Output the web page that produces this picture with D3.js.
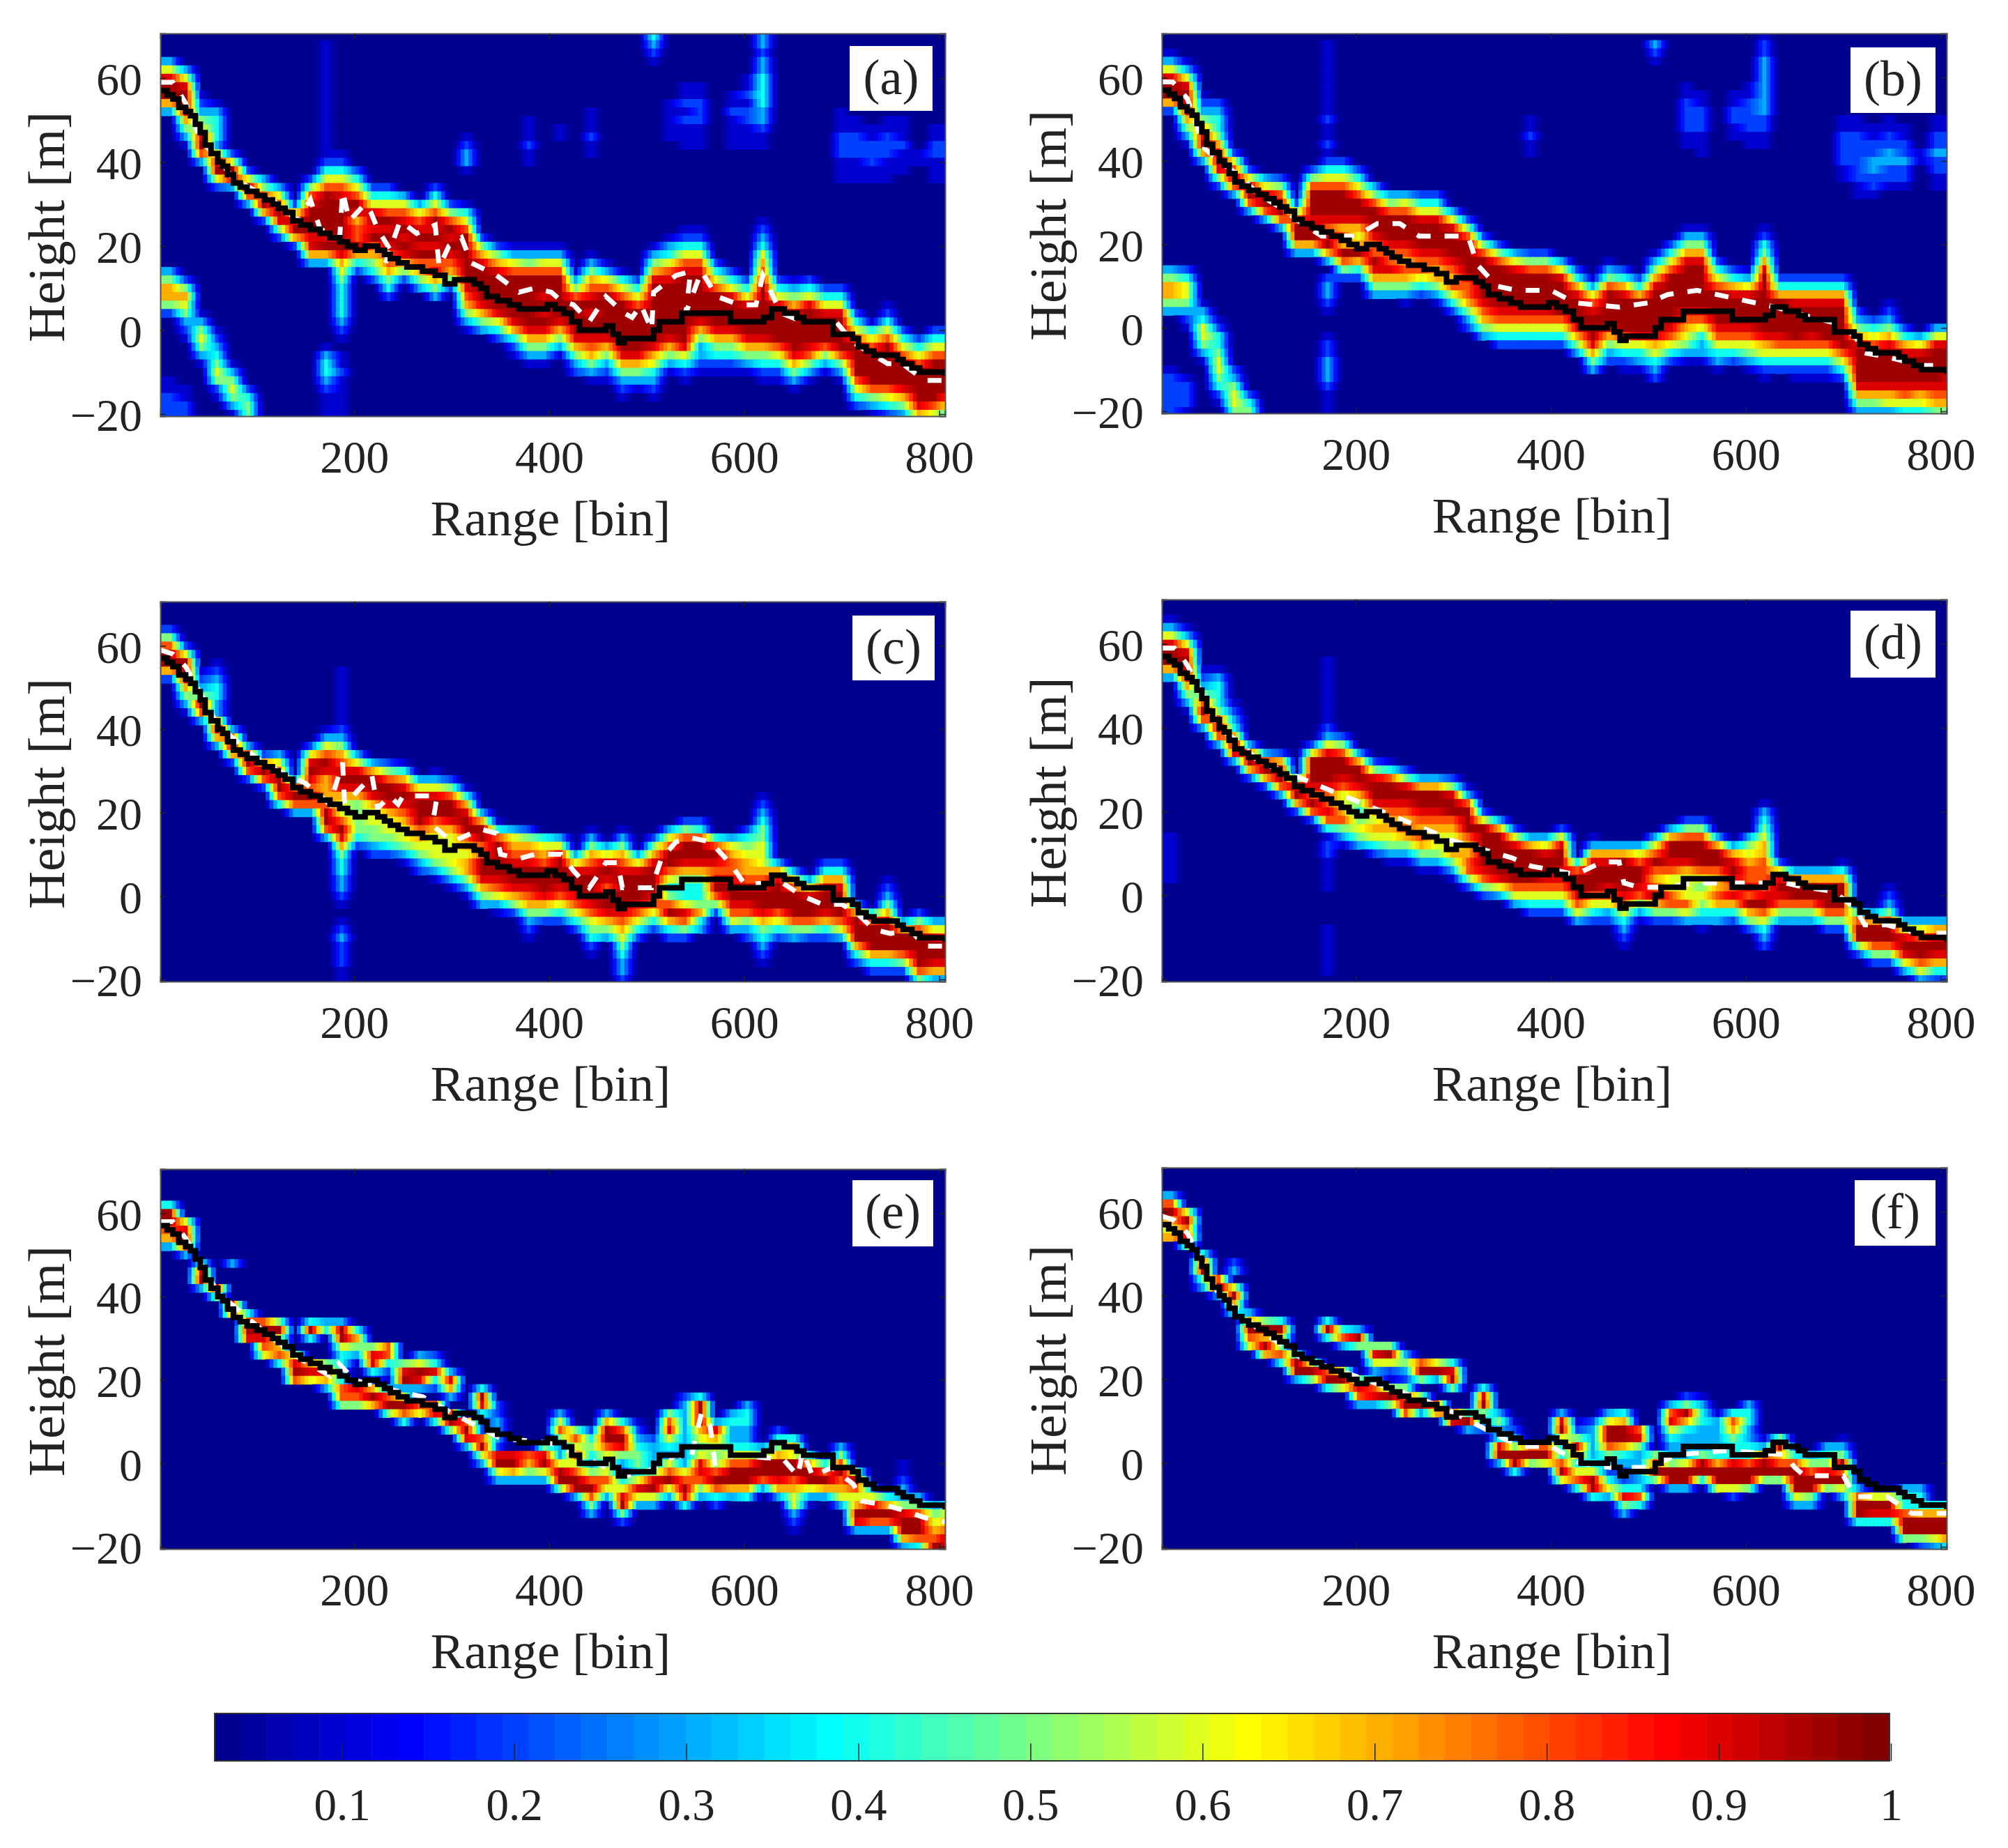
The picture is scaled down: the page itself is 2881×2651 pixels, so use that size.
<!DOCTYPE html>
<html>
<head>
<meta charset="utf-8">
<script src="https://cdn.jsdelivr.net/npm/d3@7"></script>
<style>
  body { margin: 0; background: #fff; }
  text { font-family: "Liberation Serif", serif; fill: #222; }
</style>
</head>
<body>
<svg id="chart" width="2881" height="2651"></svg>
<script>
// column centres (range bin) of the value tables below
const columnBins = [9,25,41,57,73,89,105,121,137,153,169,185,201,217,233,249,265,281,297,313,329,345,361,377,393,409,425,441,457,473,489,505,521,537,553,569,585,601,617,633,649,665,681,697,713,729,745,761,777,793,809];
const xTicks = [200, 400, 600, 800];
const yTicks = [-20, 0, 20, 40, 60];
const barTicks = [0.1, 0.2, 0.3, 0.4, 0.5, 0.6, 0.7, 0.8, 0.9, 1];
const panelNames = ['(a)', '(b)', '(c)', '(d)', '(e)', '(f)'];

// each column: [top height, digits], digits step down 2 m, value = digit / 10, a = top of scale
const cellsA = [
[[64,"369aa73"],[14,"357752"],[-12,"11222"]],[[62,"369aa97531"],[12,"25765321"],[-14,"1122"]],[[56,"123569a83"],[4,"1356531"]],[[54,"134444"],[44,"369a62"],[0,"123456521"]],[[42,"26a93"],[-8,"1356531"]],
[[38,"26a83"],[-14,"2455"]],[[36,"358a72"]],[[34,"368a952"]],[[30,"269a72"]],[[36,"2589aaa9973"]],
[[68,"1111111111111121"],[40,"2468aaaaa9a73"],[-4,"134432111"]],[[42,"124689aaaaaa97654444321"],[-6,"11211111"]],[[38,"2468a9788a742"]],[[34,"2469a9a87542"]],[[34,"2468a9a9887542"]],
[[32,"3689a9a9752"]],[[30,"3689a9a8753"]],[[34,"2468a9a9a89753"]],[[30,"258a9a98752"]],[[46,"12331"],[30,"1468aaaaaa987531"]],
[[22,"2579aaaa9753"]],[[20,"2579aaaa9642"]],[[20,"1368aaaaa97421"]],[[50,"111211"],[20,"1358aaaaaa97531"]],[[20,"1368aa9a9a97531"]],
[[48,"11"],[20,"1368aaaaa97531"]],[[14,"1358aaaa97532"]],[[52,"111211"],[18,"135789a9aa987531"]],[[16,"1368aaaaa975321"]],[[14,"1468aaaaaa975321"]],
[[12,"2468aaaaa97531"]],[[70,"4321"],[20,"13579aaaaaaa9764321"]],[[54,"11111"],[22,"134689aaaaaa97531"]],[[58,"11212111"],[24,"124689aaaaaaaa96421"]],[[58,"11222111"],[24,"124689aaaaa9753321"]],
[[16,"2468aaaa975421"]],[[56,"1121111"],[14,"2469aaa975421"]],[[60,"112122111"],[12,"2469aaa97531"]],[[70,"33233444433211"],[26,"12346789aaaaaa975421"]],[[12,"2469aaaa86421"]],
[[12,"13579aaaa97531"]],[[12,"2469aaaa98531"]],[[10,"2469aaa8531"]],[[52,"111222111"],[10,"2469aaaa8531"]],[[50,"11222111"],[4,"2468aaaa8642"]],
[[48,"1122211"],[2,"1468aaaa8531"]],[[50,"11222111"],[6,"12468aaaaa8642"]],[[50,"1112111"],[0,"2468aaa9753"]],[[42,"11"],[-2,"2468aaaa97"]],[[48,"1122111"],[0,"2468aaaaa86"]],
[[48,"1122111"],[0,"2468aaaa864"]]
];
const cellsB = [
[[66,"1369aa72"],[14,"357753"],[-10,"122222"]],[[64,"1369aa97531"],[14,"24665321"],[-12,"12221"]],[[56,"1235 79a73".replace(' ','')],[6,"13466531"]],[[54,"2344579a952"],[2,"12445665421"]],[[42,"268a83"],[-10,"235665"]],
[[38,"269a83"],[-16,"245"]],[[36,"369a83"]],[[36,"258aa83"]],[[30,"258aa73"]],[[38,"258aaa9aa73"]],
[[68,"1111111112112111"],[40,"2468aaa989a73"],[12,"23321"],[-2,"12233321111"]],[[40,"2468aaa9787a852"]],[[38,"2468aa9767a742"]],[[34,"358aaa988a9753"]],[[32,"358aaa9889753"]],
[[32,"368aaa98787531"]],[[32,"2469aaa988642"]],[[32,"2469aaa9877531"]],[[28,"369aaa9878642"]],[[26,"258aaaa9887532"]],
[[22,"258aaaaa98753"]],[[20,"258aaaaa98642"]],[[18,"369aaaa98642"]],[[50,"11211"],[18,"258aaaa98642"]],[[18,"258aaaa98642"]],
[[16,"369aaaa8642"]],[[14,"2479aaa9753"]],[[12,"13689aaa9753"]],[[16,"1358aaaa97532"]],[[14,"2479aaaa86421"]],
[[12,"247aaaa96431"]],[[68,"321"],[18,"13579aaaaa976432"]],[[20,"2468aaaaaa98642"]],[[58,"11222211"],[24,"13579aaaaa9876531"]],[[56,"11222111"],[24,"13579aaaaa9864331"]],
[[16,"2468aaaa986431"]],[[56,"112211"],[14,"2479aaa98642"]],[[58,"11222211"],[14,"1369aaa986531"]],[[70,"12233333332211"],[24,"124579aaaaaaa976421"]],[[12,"247aaaa98642"]],
[[12,"2479aaaa86421"]],[[12,"2479aaa986421"]],[[12,"2479aaaa86421"]],[[50,"11222211"],[12,"2479aaaaa8642"]],[[50,"1122222211"],[4,"23579aaaa9753"]],
[[48,"112233221"],[2,"2468aaaa9753"]],[[50,"112233221"],[6,"123579aaaa9763"]],[[48,"11223221"],[0,"2479aaa9864"]],[[42,"11"],[-2,"369aaa9764"]],[[50,"112232211"],[0,"369aaaa9875"]],
[[50,"112232211"],[0,"369aaa99875"]]
];
const cellsC = [
[[64,"258aa72"]],[[60,"26aa97531"]],[[54,"1235a83"]],[[56,"1234431"],[44,"37a73"]],[[40,"38a72"]],
[[36,"38a82"]],[[34,"27a82"]],[[34,"368aa84"]],[[28,"38a83"]],[[36,"269a98a83"]],
[[40,"1368a97778aa83"]],[[54,"111111"],[42,"123578 9a97668a9754433 21".replace(/ /g,'')],[-6,"12322211"]],[[34,"369a97555542"]],[[32,"37aa97665532"]],[[32,"258aa9766542"]],
[[32,"1479a98766531"]],[[28,"369aaa876532"]],[[30,"1369aa87666531"]],[[28,"258aa976666531"]],[[26,"1479aa87677531"]],
[[20,"37aa88aa9753"]],[[18,"148aaaa98631"]],[[16,"36789aa9752"]],[[16,"25789aa9875321"]],[[14,"4678aaa9752"]],
[[14,"369aaa98642"]],[[10,"369aa98642"]],[[16,"135789aaa9865421"]],[[12,"369a98aa9753"]],[[16,"135789aaaa9876543321"]],
[[10,"369aaa98642"]],[[14,"2579aaa98642"]],[[16,"368aa86458a742"]],[[18,"258aa975446985 2".replace(' ','')]],[[18,"248aa975445743"]],
[[14,"48a989a852"]],[[14,"367889aa9863"]],[[16,"24567789a98532"]],[[24,"1234556667 89aa9754321".replace(' ','')]],[[8,"379aaa8642"]],
[[6,"368aaa853"]],[[4,"369aa852"]],[[8,"2479aa9742"]],[[8,"2479aaa863"]],[[-2,"37aaa742"]],
[[-4,"48aaa742"]],[[4,"123579aaa742"]],[[-6,"37aa852"]],[[-4,"258aaaa85"]],[[-6,"369aa973"]],
[[-6,"368aa973"]]
];
const cellsD = [
[[66,"1369aa73"],[14,"111111"]],[[64,"1369aa97531"]],[[54,"1235 8a83".replace(' ','')]],[[54,"1344458a83"]],[[46,"12347a93"]],
[[36,"38a72"]],[[34,"38a72"]],[[34,"27aa83"]],[[28,"49a72"]],[[36,"26aaa98a82"]],
[[56,"1111111"],[42,"12369aaa9889841"],[12,"221111"],[-8,"111111"]],[[38,"258aa986678531"]],[[34,"37aa97545653"]],[[32,"259aa9767642"]],[[32,"148aa98776531"]],
[[30,"259a98787531"]],[[28,"37aa98787531"]],[[28,"37aa98766531"]],[[28,"259aa87667531"]],[[26,"138aaa8778852"]],
[[20,"26aaaaa9852"]],[[18,"37aaaaa963"]],[[16,"269aaaa863"]],[[14,"37aaaa8642"]],[[14,"369aa98642"]],
[[16,"269aa998642"]],[[8,"48aa9863"]],[[14,"1379aaa8642"]],[[12,"379aa98632"]],[[12,"37aaaa9864321"]],
[[12,"368aa98531"]],[[14,"368a878a752"]],[[16,"37aa98668852"]],[[18,"258aa97666863"]],[[18,"258aaa86565431"]],
[[14,"37aa8778743"]],[[12,"379a989742"]],[[14,"35678898a752"]],[[22,"134567788889a86432"]],[[8,"269a9853"]],
[[6,"37aa853"]],[[6,"37aa853"]],[[6,"379aa852"]],[[8,"147aaa852"]],[[-4,"48aa52"]],
[[-4,"37aa852"]],[[2,"12358aa852"]],[[-6,"369a963"]],[[-6,"368aa863"]],[[-6,"379a9742"]],
[[-6,"379a9742"]]
];
const cellsE = [
[[62,"4aa873"]],[[58,"69a83"]],[[48,"49a3"]],[[42,"95"]],[[48,"3"],[38,"98"]],
[[36,"48a9"]],[[34,"8a986"]],[[34,"5a6784"]],[[26,"69a8"]],[[34,"4a4"],[24,"796"]],
[[34,"34"],[24,"5973"]],[[34,"3aa64434885"]],[[32,"47531"],[18,"985"]],[[28,"599421"],[18,"7a7"]],[[28,"884"],[22,"21"],[18,"38a5"]],
[[24,"59a3"],[16,"6a84"]],[[26,"36a93"],[14,"86"]],[[26,"24942"],[14,"894"]],[[22,"3973"],[12,"8a5"]],[[10,"8a93"]],
[[18,"4a94"],[10,"2211"],[6,"8a63"]],[[14,"2233321"],[2,"9a63"]],[[2,"9a73"]],[[2,"8753"]],[[4,"59a63"]],
[[12,"3685336aa5"]],[[8,"586868aa3"]],[[8,"2454358a853"]],[[12,"37aa8656863"]],[[10,"48a953246 9a52".replace(' ','')]],
[[10,"12345546963"]],[[6,"233359a63"]],[[12,"58964368a63"]],[[16,"23333333368a94"]],[[16,"4aaa765699853"]],
[[10,"3976558a842"]],[[12,"3433468aa73"]],[[14,"34433468aa74"]],[[4,"35aa83"]],[[8,"2457aa973"]],
[[6,"476aa8766321"]],[[2,"47aa631"]],[[0,"48a73"]],[[4,"358a8763"]],[[-2,"5a867a93"]],
[[-6,"369a83"]],[[-8,"47a83"]],[[0,"1123359aa73"]],[[-8,"358aa84"]],[[-10,"35678aa7"]],
[[-10,"4678a9"]]
];
const cellsF = [
[[64,"38a767"]],[[60,"6a895"]],[[50,"49a53"]],[[44,"8a3"]],[[48,"23"],[42,"6a74"]],
[[36,"37a86"]],[[34,"5a7a7"]],[[34,"4a7584"]],[[26,"4aa3"]],[[24,"6a5"]],
[[34,"4a4"],[22,"8a4"]],[[32,"483"],[22,"6a6"]],[[32,"3a5"],[20,"5983"]],[[28,"59631"],[20,"3893"]],[[28,"5a62111"],[18,"5a5"]],
[[26,"3532211"],[18,"58a8"]],[[24,"8a5"],[16,"5a3"]],[[24,"6a3"],[14,"87"]],[[24,"49a5"],[12,"89"]],[[12,"4a3"]],
[[18,"49a532"]],[[12,"3533"],[6,"49a3"]],[[10,"1232"],[4,"5aa4"]],[[4,"8a5"]],[[4,"8a6"]],
[[12,"39a6448a6"]],[[10,"125974684"]],[[10,"2333346aa4"]],[[12,"36aa8532463"]],[[12,"47aa743224953"]],
[[8,"8953333484"]],[[2,"58a5"]],[[14,"38964335aa3"]],[[16,"25a743336aa3"]],[[16,"13443335aa4"]],
[[12,"1333347aa6"]],[[12,"4875449aa62"]],[[14,"34433448aa5"]],[[6,"138aa5"]],[[6,"5a78a5"]],
[[2,"48aaa63"]],[[2,"358aa53"]],[[4,"3459a5"]],[[6,"1245"],[4,"35a8a63"]],[[-6,"38aa4"]],
[[-8,"6a94"]],[[-8,"6a94"]],[[-6,"3448aa5"]],[[-6,"3447aa52"]],[[-10,"47aa63"]],
[[-10,"47aa84"]]
];

// black staircase: bins and heights, same in all panels
const groundBins = [1,8,14,20,27,32,37,42,47,53,60,65,70,76,83,90,100,108,116,122,129,137,145,155,165,175,185,193,201,211,224,231,237,245,254,262,270,283,293,303,323,330,336,347,359,369,389,398,406,415,423,431,451,458,465,471,477,500,507,513,526,536,579,586,612,620,628,641,654,661,678,691,704,711,717,725,733,750,757,763,772,780,806];
const groundHeights = [57,56,55,53,52,51,49,47,44,42,40,39,37,35,34,33,32,31,30,29,28,26,25,24,23,22,21,20,19,20,19,18,17,16,15,15,14,13,11,12,11,10,8,7,6,5,5,6,5,4,2,0,0,1,-1,-3,-2,-2,0,2,2,4,4,2,2,3,5,4,3,2,2,-1,-1,-2,-4,-5,-6,-6,-7,-8,-9,-10,-11];

// white dashed tracks [bin, height]
const whiteA = [[1,59],[14,59],[27,54],[43,45],[60,41],[76,36],[100,33],[122,30],[142,26],[155,31],[165,24],[185,22],[188,33],[195,26],[211,30],[217,28],[224,24],[237,19],[232,16],[247,26],[264,23],[283,25],[287,15],[297,20],[310,22],[320,16],[346,13],[369,9],[385,10],[402,9],[412,7],[425,6],[441,2],[458,8],[477,4],[485,3],[494,6],[505,0],[507,9],[530,13],[545,14],[540,4],[556,14],[572,8],[595,6],[612,6],[619,13],[638,4],[660,2],[680,2],[694,2],[712,-3],[733,-6],[747,-8],[762,-8],[785,-12],[806,-12]];
const whiteB = [[1,59],[12,59],[27,55],[45,43],[60,40],[83,36],[100,32],[122,29],[145,25],[165,22],[200,22],[222,25],[245,25],[265,22],[285,22],[315,22],[325,15],[345,10],[365,9],[400,9],[425,6],[470,5],[500,6],[520,8],[550,9],[590,7],[630,5],[660,3],[695,1],[712,-2],[722,-6],[745,-7],[780,-9],[806,-9]];
const whiteC = [[1,59],[14,58],[27,55],[60,41],[100,33],[122,30],[150,27],[175,22],[188,32],[190,22],[211,27],[218,29],[224,21],[236,24],[245,22],[250,24],[270,24],[285,24],[280,17],[300,13],[320,15],[330,16],[346,15],[350,10],[370,9],[385,10],[412,10],[425,6],[441,2],[450,5],[458,8],[470,8],[475,2],[505,2],[515,9],[530,13],[545,14],[565,13],[585,8],[600,3],[640,3],[660,0],[680,-2],[700,-2],[715,-4],[733,-8],[750,-9],[770,-8],[785,-12],[806,-12]];
const whiteD = [[1,59],[14,59],[27,55],[60,40],[83,36],[100,32],[122,30],[280,15],[300,13],[360,9],[380,7],[405,6],[425,5],[453,8],[470,8],[475,3],[490,2],[515,2],[550,3],[590,3],[640,3],[660,2],[690,1],[712,-3],[722,-7],[745,-7],[775,-9],[806,-9]];
const whiteE = [[1,58],[14,58],[27,54],[60,41],[100,33],[145,25],[175,21],[184,24],[200,20],[250,17],[270,16],[293,13],[350,6],[400,5],[430,2],[450,0],[475,-3],[500,-2],[530,2],[545,1],[556,12],[565,9],[570,0],[590,2],[640,1],[655,-3],[660,3],[670,-3],[690,-1],[712,-5],[720,-9],[745,-10],[760,-11],[785,-13],[806,-14]];
const whiteF = [[1,59],[14,58],[27,55],[60,40],[100,32],[145,25],[185,22],[270,15],[293,13],[350,6],[370,4],[400,4],[430,0],[460,-1],[500,-1],[530,2],[580,3],[640,2],[650,-1],[660,-3],[700,-3],[712,-8],[745,-8],[770,-12],[806,-12]];

const panelCells = [cellsA, cellsB, cellsC, cellsD, cellsE, cellsF];
const panelWhite = [whiteA, whiteB, whiteC, whiteD, whiteE, whiteF];

// layout, in pixels
const panelBoxes = [
  { left: 230, top: 48, bottom: 597, lx: 1219, ly: 66, lw: 119, lh: 93 },
  { left: 1667, top: 48, bottom: 593, lx: 2655, ly: 68, lw: 122, lh: 94 },
  { left: 230, top: 863, bottom: 1408, lx: 1223, ly: 883, lw: 118, lh: 93 },
  { left: 1667, top: 860, bottom: 1408, lx: 2655, ly: 876, lw: 122, lh: 96 },
  { left: 230, top: 1677, bottom: 2222, lx: 1223, ly: 1693, lw: 116, lh: 95 },
  { left: 1667, top: 1675, bottom: 2222, lx: 2661, ly: 1693, lw: 116, lh: 94 }
];
const plotWidth = 1126;
const bar = { left: 308, right: 2711, top: 2458, bottom: 2526 };

// matlab jet(64)
const jet = d3.range(64).map(i => {
  const t = (i + 1) / 64;
  const ch = c => Math.round(255 * Math.max(0, Math.min(1, 1.5 - Math.abs(4 * t - c))));
  return `rgb(${ch(3)},${ch(2)},${ch(1)})`;
});
const color = d3.scaleQuantize().domain([0.026, 1]).range(jet);
const rowHeights = d3.range(70, -22, -2);
const subBins = d3.range(1, 806, 4);
const digitValue = c => Math.min(parseInt(c, 16) / 10, 0.96);

const svg = d3.select('#chart');
const fmtMinus = d => String(d).replace('-', '\u2212');

panelBoxes.forEach((box, p) => {
  const x = d3.scaleLinear().domain([1, 806]).range([0, plotWidth]);
  const y = d3.scaleLinear().domain([-20.5, 70.6]).range([box.bottom - box.top, 0]);
  const g = svg.append('g').attr('transform', `translate(${box.left},${box.top})`);

  svg.append('clipPath').attr('id', `clip${p}`)
    .append('rect').attr('width', plotWidth).attr('height', box.bottom - box.top);

  const plot = g.append('g').attr('clip-path', `url(#clip${p})`);
  plot.append('rect').attr('width', plotWidth).attr('height', box.bottom - box.top).attr('fill', jet[0]);

  // fill the table: rows x columns
  const grid = rowHeights.map(() => columnBins.map(() => 0));
  panelCells[p].forEach((segments, col) => {
    segments.forEach(([top, digits]) => {
      [...digits].forEach((c, k) => {
        const row = rowHeights.indexOf(top - 2 * k);
        if (row >= 0) grid[row][col] = digitValue(c);
      });
    });
  });

  // shaded across range like the original, stepped in height
  const cells = [];
  rowHeights.forEach((h, r) => {
    const across = d3.scaleLinear().domain(columnBins).range(grid[r]).clamp(true);
    subBins.forEach(b => {
      const v = across(b);
      if (v > 0.04) cells.push({ b, h, v });
    });
  });
  plot.selectAll('rect.cell').data(cells).enter().append('rect')
    .attr('class', 'cell')
    .attr('x', d => x(d.b))
    .attr('y', d => y(d.h + 1))
    .attr('width', x(5) - x(0))
    .attr('height', y(0) - y(2) + 0.5)
    .attr('fill', d => color(d.v));

  plot.append('path')
    .datum(panelWhite[p])
    .attr('d', d3.line().x(d => x(d[0])).y(d => y(d[1])))
    .attr('fill', 'none').attr('stroke', '#fff').attr('stroke-width', 7)
    .attr('stroke-dasharray', '20 20');

  plot.append('path')
    .datum(d3.zip(groundBins, groundHeights))
    .attr('d', d3.line().x(d => x(d[0])).y(d => y(d[1])).curve(d3.curveStepAfter))
    .attr('fill', 'none').attr('stroke', '#000').attr('stroke-width', 8);

  const h = box.bottom - box.top;
  g.append('g').attr('transform', `translate(0,${h})`)
    .call(d3.axisBottom(x).tickValues(xTicks).tickSize(-8).tickPadding(34))
    .call(a => a.selectAll('text').style('font-size', '66px'));
  g.append('g')
    .call(d3.axisLeft(y).tickValues(yTicks).tickSize(-8).tickPadding(26).tickFormat(fmtMinus))
    .call(a => a.selectAll('text').style('font-size', '66px').attr('dy', '0.36em'));
  g.append('g')
    .call(d3.axisTop(x).tickValues(xTicks).tickSize(-8).tickFormat(''));
  g.append('g').attr('transform', `translate(${plotWidth},0)`)
    .call(d3.axisRight(y).tickValues(yTicks).tickSize(-8).tickFormat(''));
  g.selectAll('.domain').attr('stroke', '#555').attr('stroke-width', 2);
  g.selectAll('.tick line').attr('stroke', '#222').attr('stroke-width', 1.5);

  g.append('text')
    .attr('x', plotWidth / 2 - 3).attr('y', h + 171)
    .attr('text-anchor', 'middle').style('font-size', '72.5px')
    .text('Range [bin]');
  g.append('text')
    .attr('transform', `translate(-138,${h / 2 + 3}) rotate(-90)`)
    .attr('text-anchor', 'middle').style('font-size', '75px')
    .text('Height [m]');

  svg.append('rect')
    .attr('x', box.lx).attr('y', box.ly).attr('width', box.lw).attr('height', box.lh)
    .attr('fill', '#fff');
  svg.append('text')
    .attr('x', box.lx + box.lw / 2).attr('y', box.ly + 69)
    .attr('text-anchor', 'middle').style('font-size', '72px')
    .text(panelNames[p]);
});

// colorbar
const barIndex = d3.range(64);
const barBand = d3.scaleBand().domain(barIndex).range([bar.left, bar.right]);
svg.append('g').selectAll('rect').data(barIndex).enter().append('rect')
  .attr('x', d => barBand(d)).attr('y', bar.top)
  .attr('width', barBand.bandwidth() + 0.5).attr('height', bar.bottom - bar.top)
  .attr('fill', d => jet[d]);

const barScale = d3.scaleLinear().domain([0.026, 1]).range([bar.left, bar.right + 2]);
const barAxis = svg.append('g').attr('transform', `translate(0,${bar.bottom})`)
  .call(d3.axisBottom(barScale).tickValues(barTicks).tickSize(-25).tickPadding(39)
    .tickFormat(d => d === 1 ? '1' : d.toFixed(1)));
barAxis.selectAll('text').style('font-size', '65px');
barAxis.selectAll('.tick line').attr('stroke', '#222').attr('stroke-width', 1.5);
barAxis.select('.domain').remove();
svg.append('rect')
  .attr('x', bar.left).attr('y', bar.top)
  .attr('width', bar.right - bar.left).attr('height', bar.bottom - bar.top)
  .attr('fill', 'none').attr('stroke', '#333').attr('stroke-width', 2);
</script>
</body>
</html>
